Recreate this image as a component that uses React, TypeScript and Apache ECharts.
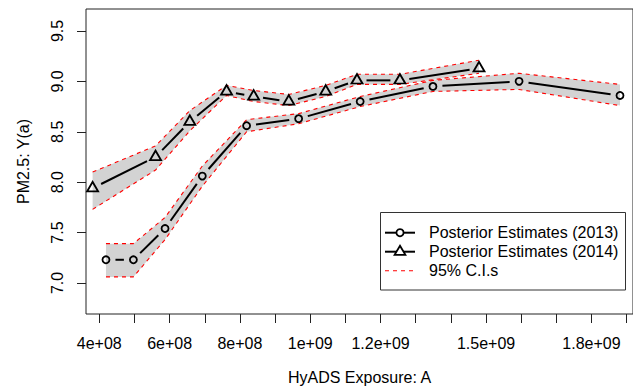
import React, { useEffect, useRef } from "react";
import * as echarts from "echarts";

// Posterior estimates of PM2.5 against HyADS exposure, 2013
const exposure2013 = [4.19e8, 4.97e8, 5.87e8, 6.93e8, 8.19e8, 9.67e8, 11.42e8, 13.49e8, 15.94e8, 18.81e8];
const estimate2013 = [7.23, 7.23, 7.54, 8.06, 8.56, 8.63, 8.8, 8.95, 9.0, 8.86];
const lower2013 = [7.06, 7.06, 7.43, 7.96, 8.5, 8.58, 8.75, 8.9, 8.92, 8.76];
const upper2013 = [7.39, 7.39, 7.65, 8.16, 8.62, 8.68, 8.85, 9.01, 9.08, 8.97];

// Posterior estimates, 2014
const exposure2014 = [3.81e8, 5.6e8, 6.575e8, 7.62e8, 8.39e8, 9.39e8, 10.44e8, 11.33e8, 12.55e8, 14.8e8];
const estimate2014 = [7.94, 8.25, 8.6, 8.9, 8.85, 8.8, 8.9, 9.01, 9.01, 9.13];
const lower2014 = [7.73, 8.12, 8.51, 8.86, 8.8, 8.76, 8.85, 8.97, 8.97, 9.08];
const upper2014 = [8.1, 8.36, 8.71, 8.96, 8.91, 8.87, 8.96, 9.07, 9.07, 9.21];

// Axis ticks and labels
const xTickValues = [4e8, 5e8, 6e8, 7e8, 8e8, 9e8, 10e8, 11e8, 12e8, 13e8, 14e8, 15e8, 16e8, 17e8, 18e8, 19e8];
const xLabelValues = [4e8, 6e8, 8e8, 10e8, 12e8, 15e8, 18e8];
const xLabelTexts = ["4e+08", "6e+08", "8e+08", "1e+09", "1.2e+09", "1.5e+09", "1.8e+09"];
const yTickValues = [7.0, 7.5, 8.0, 8.5, 9.0, 9.5];
const yLabelTexts = ["7.0", "7.5", "8.0", "8.5", "9.0", "9.5"];

const xTitle = "HyADS Exposure: A";
const yTitle = "PM2.5: Y(a)";
const legendLabels = ["Posterior Estimates (2013)", "Posterior Estimates (2014)", "95% C.I.s"];

const X_MIN = 3.622e8;
const X_MAX = 19.18e8;
const Y_MIN = 6.692;
const Y_MAX = 9.718;

const FONT = "'Liberation Sans', Arial, Helvetica, sans-serif";
const BAND_FILL = "#D3D3D3";
const CI_RED = "#FF0000";
const GAP = 9.5;

function labelFor(values: number[], texts: string[], v: number): string {
  for (let i = 0; i < values.length; i++) {
    if (Math.abs(values[i] - v) < 1e-6 * Math.max(1, Math.abs(v))) return texts[i];
  }
  return "";
}

// Grey confidence band: a single polygon through the upper then lower bounds
function bandSeries(xs: number[], lo: number[], hi: number[]) {
  return {
    type: "custom",
    silent: true,
    z: 1,
    data: [[xs[0], lo[0]]],
    renderItem: (_params: any, api: any) => {
      const pts: number[][] = [];
      for (let i = 0; i < xs.length; i++) pts.push(api.coord([xs[i], hi[i]]));
      for (let i = xs.length - 1; i >= 0; i--) pts.push(api.coord([xs[i], lo[i]]));
      return { type: "polygon", shape: { points: pts }, style: { fill: BAND_FILL } };
    },
  };
}

// Dashed red bound
function boundSeries(xs: number[], ys: number[]) {
  return {
    type: "line",
    silent: true,
    z: 2,
    symbol: "none",
    data: xs.map((x, i) => [x, ys[i]]),
    lineStyle: { color: CI_RED, width: 1.1, type: [4, 4] },
  };
}

// Connecting segments that stop short of the markers
function segmentSeries(xs: number[], ys: number[]) {
  const segs = xs.slice(0, -1).map((x, i) => [x, ys[i], xs[i + 1], ys[i + 1]]);
  return {
    type: "custom",
    silent: true,
    z: 3,
    data: segs,
    encode: { x: [0, 2], y: [1, 3] },
    renderItem: (_params: any, api: any) => {
      const a = api.coord([api.value(0), api.value(1)]);
      const b = api.coord([api.value(2), api.value(3)]);
      const dx = b[0] - a[0];
      const dy = b[1] - a[1];
      const len = Math.hypot(dx, dy);
      if (len <= 2 * GAP) return { type: "group", children: [] };
      const ux = dx / len;
      const uy = dy / len;
      return {
        type: "line",
        shape: { x1: a[0] + ux * GAP, y1: a[1] + uy * GAP, x2: b[0] - ux * GAP, y2: b[1] - uy * GAP },
        style: { stroke: "#000", lineWidth: 2 },
      };
    },
  };
}

function markerSeries(xs: number[], ys: number[], symbol: string, size: any, offset: number[]) {
  return {
    type: "scatter",
    silent: true,
    z: 4,
    symbol,
    symbolSize: size,
    symbolOffset: offset,
    data: xs.map((x, i) => [x, ys[i]]),
    itemStyle: { color: "transparent", borderColor: "#000", borderWidth: 1.8, opacity: 1 },
  };
}

function legendGraphic() {
  const left = 380.5;
  const top = 212.5;
  const rowY = [232.7, 251.7, 270.7];
  const lineX1 = 385;
  const lineX2 = 415;
  const markX = 400;
  const textX = 429;
  const children: any[] = [
    { type: "rect", shape: { x: left, y: top, width: 245, height: 77.5 }, style: { fill: "#fff", stroke: "#333", lineWidth: 1 } },
    { type: "line", shape: { x1: lineX1, y1: rowY[0], x2: lineX2, y2: rowY[0] }, style: { stroke: "#000", lineWidth: 2 } },
    { type: "circle", shape: { cx: markX, cy: rowY[0], r: 3.6 }, style: { fill: "#fff", stroke: "#000", lineWidth: 1.8 } },
    { type: "line", shape: { x1: lineX1, y1: rowY[1], x2: lineX2, y2: rowY[1] }, style: { stroke: "#000", lineWidth: 2 } },
    {
      type: "polygon",
      shape: { points: [[markX, rowY[1] - 6], [markX + 5.4, rowY[1] + 3.2], [markX - 5.4, rowY[1] + 3.2]] },
      style: { fill: "#fff", stroke: "#000", lineWidth: 1.8 },
    },
    { type: "line", shape: { x1: lineX1, y1: rowY[2], x2: lineX2, y2: rowY[2] }, style: { stroke: CI_RED, lineWidth: 1.1, lineDash: [4, 4] } },
  ];
  legendLabels.forEach((t, i) => {
    children.push({
      type: "text",
      x: textX,
      y: rowY[i],
      style: { text: t, fill: "#000", font: `16px ${FONT}`, verticalAlign: "middle", align: "left" },
    });
  });
  return [{ type: "group", z: 10, children }];
}

export default function App() {
  const ref = useRef<HTMLDivElement>(null);

  useEffect(() => {
    if (!ref.current) return;
    const chart = echarts.init(ref.current, undefined, { renderer: "svg" });
    chart.setOption({
      animation: false,
      backgroundColor: "#fff",
      textStyle: { fontFamily: FONT, color: "#000" },
      grid: { left: 86, top: 9, width: 548, height: 305, show: true, borderColor: "#222", borderWidth: 1, containLabel: false },
      xAxis: {
        type: "value",
        min: X_MIN,
        max: X_MAX,
        name: xTitle,
        nameLocation: "middle",
        nameGap: 55,
        nameTextStyle: { fontSize: 16, color: "#000", fontFamily: FONT },
        axisLine: { show: false },
        splitLine: { show: false },
        axisTick: { show: true, length: 9, customValues: xTickValues, lineStyle: { color: "#222", width: 1 } },
        axisLabel: {
          customValues: xLabelValues,
          margin: 21,
          fontSize: 16,
          color: "#000",
          fontFamily: FONT,
          formatter: (v: number) => labelFor(xLabelValues, xLabelTexts, v),
        },
      },
      yAxis: {
        type: "value",
        min: Y_MIN,
        max: Y_MAX,
        name: yTitle,
        nameLocation: "middle",
        nameGap: 55,
        nameTextStyle: { fontSize: 16, color: "#000", fontFamily: FONT },
        axisLine: { show: false },
        splitLine: { show: false },
        axisTick: { show: true, length: 9, customValues: yTickValues, lineStyle: { color: "#222", width: 1 } },
        axisLabel: {
          customValues: yTickValues,
          rotate: 90,
          margin: 21,
          fontSize: 16,
          color: "#000",
          fontFamily: FONT,
          formatter: (v: number) => labelFor(yTickValues, yLabelTexts, v),
        },
      },
      series: [
        bandSeries(exposure2013, lower2013, upper2013),
        bandSeries(exposure2014, lower2014, upper2014),
        boundSeries(exposure2013, upper2013),
        boundSeries(exposure2013, lower2013),
        boundSeries(exposure2014, upper2014),
        boundSeries(exposure2014, lower2014),
        segmentSeries(exposure2013, estimate2013),
        segmentSeries(exposure2014, estimate2014),
        markerSeries(exposure2013, estimate2013, "circle", 7, [0, 0]),
        markerSeries(exposure2014, estimate2014, "triangle", [11, 9.5], [0, -1.6]),
      ],
      graphic: legendGraphic(),
    });
    return () => chart.dispose();
  }, []);

  return <div ref={ref} style={{ position: "absolute", left: 0, top: 0, width: 633, height: 392 }} />;
}
